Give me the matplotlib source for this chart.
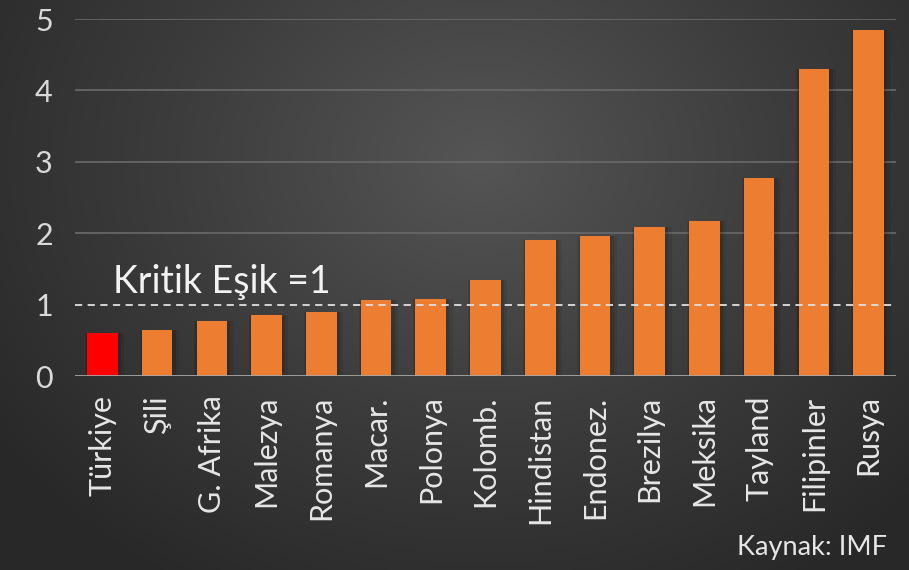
import numpy as np
import matplotlib
matplotlib.use("Agg")
import matplotlib.pyplot as plt
from matplotlib.colors import LinearSegmentedColormap

countries = ["Türkiye", "Şili", "G. Afrika", "Malezya", "Romanya", "Macar.",
             "Polonya", "Kolomb.", "Hindistan", "Endonez.", "Brezilya",
             "Meksika", "Tayland", "Filipinler", "Rusya"]
ratios = [0.60, 0.64, 0.77, 0.86, 0.89, 1.06, 1.08, 1.34, 1.91, 1.96,
          2.08, 2.17, 2.78, 4.30, 4.84]
y_ticks = [0, 1, 2, 3, 4, 5]
threshold = 1
threshold_label = "Kritik Eşik =1"
source_label = "Kaynak: IMF"

plt.rcParams["font.family"] = ["Lato", "DejaVu Sans"]

W, H = 909, 570
fig = plt.figure(figsize=(W / 100, H / 100), dpi=100)

# radial dark-gray backdrop
bg = fig.add_axes([0, 0, 1, 1], zorder=0)
yy, xx = np.mgrid[0:H, 0:W]
r = np.sqrt(((xx - 480) / 600) ** 2 + ((yy - 160) / 500) ** 2)
shade = np.clip(r, 0, 1)
cmap = LinearSegmentedColormap.from_list("bg", ["#555555", "#3d3d3d", "#282828"])
bg.imshow(shade, cmap=cmap, vmin=0, vmax=1, aspect="auto", extent=[0, W, H, 0])
bg.set_xlim(0, W)
bg.set_ylim(H, 0)
bg.axis("off")

ax = fig.add_axes([75 / W, 1 - 376 / H, (896 - 75) / W, (376 - 19) / H], zorder=1)
ax.patch.set_alpha(0)

x = np.arange(len(countries))
colors = ["#ff0000"] + ["#ed7d31"] * (len(countries) - 1)
# soft shadow behind bars
for dx, a in [(0.08, 0.08), (0.04, 0.12)]:
    ax.bar(x + dx * 0.5, ratios, width=0.56 + 2 * dx, color="black", alpha=a, zorder=1)
ax.bar(x, ratios, width=0.56, color=colors, zorder=2)

ax.set_xlim(-0.5, len(countries) - 0.5)
ax.set_ylim(0, 5)
ax.set_yticks(y_ticks)
for t in y_ticks:
    if t in (2, 3, 4, 5):
        ax.axhline(t, color="#6a6a6a", lw=1.2, zorder=0)
ax.axhline(0, color="#a6a6a6", lw=2, zorder=3)
ax.axhline(threshold, color="#e0e0e0", lw=1.3, ls=(0, (4, 3)), zorder=3)

ax.text(0.2, threshold + 0.07, threshold_label, color="#f2f2f2", fontsize=27,
        ha="left", va="bottom", zorder=4)

ax.set_xticks(x)
ax.set_xticklabels(countries, rotation=90, color="#e6e6e6", fontsize=22)
ax.set_yticklabels([str(t) for t in y_ticks], color="#d9d9d9", fontsize=22)
ax.tick_params(axis="both", length=0)
ax.tick_params(axis="x", pad=14)
ax.tick_params(axis="y", pad=16)
for s in ax.spines.values():
    s.set_visible(False)

fig.text(887 / W, 1 - 548 / H, source_label, color="#e6e6e6", fontsize=19.5,
         ha="right", va="center")

fig.savefig("out.png", dpi=100)
